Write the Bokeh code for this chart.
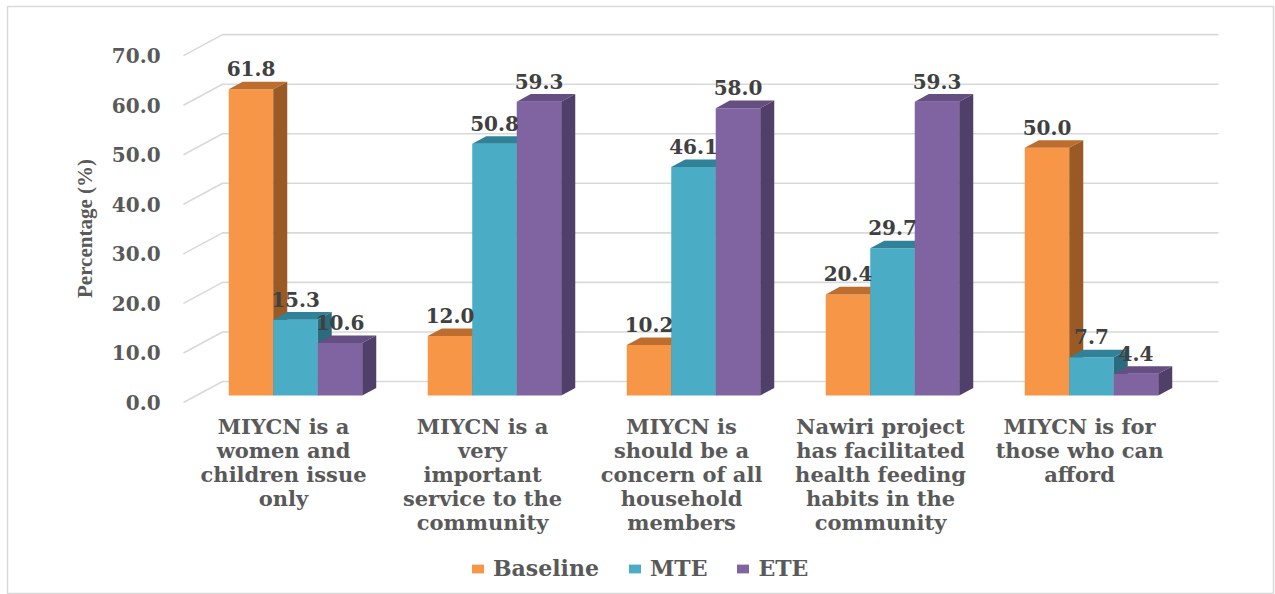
import numpy as np
from bokeh.plotting import figure
from bokeh.models import Range1d, Legend, LegendItem
from bokeh.core.properties import value
from bokeh.embed import file_html
from bokeh.resources import INLINE

# ---------------- data ----------------
categories = [
    "MIYCN is a\nwomen and\nchildren issue\nonly",
    "MIYCN is a\nvery\nimportant\nservice to the\ncommunity",
    "MIYCN is\nshould be a\nconcern of all\nhousehold\nmembers",
    "Nawiri project\nhas facilitated\nhealth feeding\nhabits in the\ncommunity",
    "MIYCN is for\nthose who can\nafford",
]
series_names = ["Baseline", "MTE", "ETE"]
baseline = [61.8, 12.0, 10.2, 20.4, 50.0]
mte = [15.3, 50.8, 46.1, 29.7, 7.7]
ete = [10.6, 59.3, 58.0, 59.3, 4.4]
y_ticks = [0, 10, 20, 30, 40, 50, 60, 70]
y_tick_labels = ["0.0", "10.0", "20.0", "30.0", "40.0", "50.0", "60.0", "70.0"]
y_title = "Percentage (%)"

# ---------------- style / geometry ----------------
front_cols = ["#F79646", "#4BACC6", "#8064A2"]
top_cols = ["#BD6E2E", "#2F8298", "#654F82"]
side_cols = ["#9A5A25", "#2A6C7E", "#503F68"]
BW = 0.2236          # bar width (category units)
DX, DY = 0.0704, 1.53  # bar depth offset
WALL_DY = 2.83       # back wall offset
DIAG_X0, DIAG_DY = -0.5628, -1.41
WALL_X0, WALL_X1 = -0.3668, 4.638
GRID = "#d9d9d9"
TXT = "#595959"
FONT = "DejaVu Serif"

p = figure(width=1275, height=594,
           x_range=Range1d(-1.4472, 4.9146), y_range=Range1d(-40.16, 78.51),
           output_backend="svg", toolbar_location=None,
           x_axis_location=None, y_axis_location=None,
           min_border_left=7, min_border_right=2, min_border_top=6, min_border_bottom=0)
p.grid.visible = False
p.outline_line_color = GRID
p.outline_line_width = 1.5
p.background_fill_color = "white"
p.border_fill_color = "white"

# back wall gridlines with left diagonal
gxs = [[DIAG_X0, WALL_X0, WALL_X1] for _ in y_ticks]
gys = [[v + DIAG_DY, v + WALL_DY, v + WALL_DY] for v in y_ticks]
p.multi_line(gxs, gys, line_color=GRID, line_width=1.6)

# tick labels
p.text(x=[-0.678] * len(y_ticks), y=[v + DIAG_DY for v in y_ticks], text=y_tick_labels,
       text_align="right", text_baseline="middle", text_font=value(FONT),
       text_font_style="bold", text_font_size="20px", text_color=TXT)

# y title
p.text(x=[-1.06], y=[33.7], text=[y_title], angle=np.pi / 2,
       text_align="center", text_baseline="middle", text_font=value("Liberation Serif"),
       text_font_style="bold", text_font_size="21px", text_color=TXT)

centers = np.arange(len(categories), dtype=float)
renderers = []
for k, vals in enumerate([baseline, mte, ete]):
    vals = np.array(vals, dtype=float)
    xc = centers + (k - 1) * BW
    x0 = xc - BW / 2
    x1 = xc + BW / 2
    r = p.vbar(x=xc, top=vals, bottom=0, width=BW, fill_color=front_cols[k], line_color=None)
    renderers.append(r)
    top_xs = [[a, b, b + DX, a + DX] for a, b in zip(x0, x1)]
    top_ys = [[v, v, v + DY, v + DY] for v in vals]
    p.patches(top_xs, top_ys, fill_color=top_cols[k], line_color=None)
    side_xs = [[b, b + DX, b + DX, b] for b in x1]
    side_ys = [[0, DY, v + DY, v] for v in vals]
    p.patches(side_xs, side_ys, fill_color=side_cols[k], line_color=None)

# data labels
for k, vals in enumerate([baseline, mte, ete]):
    xc = centers + (k - 1) * BW
    p.text(x=xc, y=[v + 4.15 for v in vals], text=[f"{v:.1f}" for v in vals],
           text_align="center", text_baseline="alphabetic", text_font=value(FONT),
           text_font_style="bold", text_font_size="20px", text_color="#404040")

# category labels
p.text(x=centers - 0.06, y=[-3.8] * len(categories), text=categories,
       text_align="center", text_baseline="top", text_font=value(FONT),
       text_font_style="bold", text_font_size="21px", text_color=TXT,
       text_line_height=0.96)

legend = Legend(items=[LegendItem(label=n, renderers=[r]) for n, r in zip(series_names, renderers)],
                orientation="horizontal", location=(463, 13),
                border_line_color=None, background_fill_alpha=0,
                label_text_font=FONT, label_text_font_style="bold",
                label_text_font_size="22px", label_text_color=TXT,
                glyph_width=15, glyph_height=11, label_standoff=8, spacing=28,
                padding=0, margin=0)
p.add_layout(legend)

open("out.html", "w").write(file_html(p, INLINE))
